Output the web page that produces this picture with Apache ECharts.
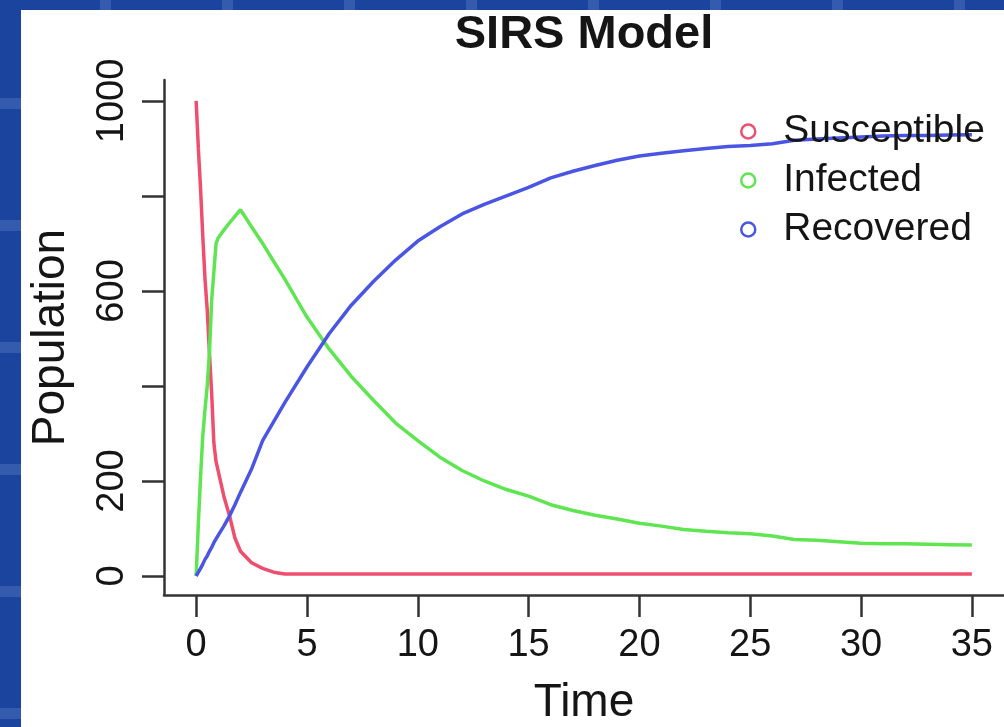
<!DOCTYPE html>
<html>
<head>
<meta charset="utf-8">
<title>SIRS Model</title>
<script src="https://cdn.jsdelivr.net/npm/echarts@6/dist/echarts.min.js"></script>
<style>
  html, body { margin: 0; padding: 0; width: 1004px; height: 727px; overflow: hidden; }
  body {
    background-color: #1b449f;
    background-image:
      repeating-linear-gradient(90deg, transparent 0 100px, rgba(120,150,215,0.28) 100px 111px, transparent 111px 122px),
      repeating-linear-gradient(180deg, transparent 0 98px, rgba(120,150,215,0.28) 98px 109px, transparent 109px 122px);
  }
  #panel { position: absolute; left: 21px; top: 10px; width: 983px; height: 717px; background: #ffffff; }
  #chart { position: absolute; left: 0; top: 0; width: 1004px; height: 727px; }
</style>
</head>
<body>
<div id="panel"></div>
<div id="chart"></div>
<script>
// Simulation output: time points and the three compartments
const timePoints = [0, 0.1, 0.2, 0.3, 0.4, 0.5, 0.6, 0.7, 0.8, 0.9, 1, 1.25, 1.5, 1.75, 2, 2.5, 3, 3.5, 4,
  5, 6, 7, 8, 9, 10, 11, 12, 13, 14, 15, 16, 17, 18, 19, 20, 21, 22, 23, 24, 25, 26, 27, 28, 29, 30, 31, 32, 33, 34, 35];
const susceptible = [1000, 900, 815, 715, 625, 560, 470, 385, 280, 240, 220, 168, 128, 80, 52, 28, 16, 8, 4,
  4, 4, 4, 4, 4, 4, 4, 4, 4, 4, 4, 4, 4, 4, 4, 4, 4, 4, 4, 4, 4, 4, 4, 4, 4, 4, 4, 4, 4, 4, 4];
const infected = [0, 110, 210, 295, 350, 400, 470, 580, 640, 700, 712, 728, 743, 757, 771, 735, 700, 662, 625,
  545, 478, 420, 370, 322, 285, 250, 222, 200, 182, 168, 150, 138, 128, 120, 111, 105, 98, 94, 91, 89, 84, 77, 75, 72, 69, 68, 68, 67, 66, 65];
const recovered = [0, 8, 16, 25, 35, 42, 52, 60, 70, 78, 86, 105, 126, 150, 176, 225, 285, 325, 365,
  440, 510, 570, 620, 665, 705, 735, 762, 782, 800, 818, 838, 852, 864, 875, 884, 890, 895, 900, 904, 906, 910, 917, 920, 922, 924, 926, 927, 927, 928, 929];

const seriesNames = ['Susceptible', 'Infected', 'Recovered'];
const seriesColors = ['#ef4f6e', '#5fe552', '#4a55e3'];
const xTicks = [0, 5, 10, 15, 20, 25, 30, 35];
const yTicks = [0, 200, 400, 600, 800, 1000];
const yTickLabels = [0, 200, 600, 1000];

const FONT = '"Liberation Sans", Arial, Helvetica, sans-serif';
const INK = '#151515';
const AXIS = '#333333';

const pairs = vals => timePoints.map((t, i) => [t, vals[i]]);
const seriesValues = [susceptible, infected, recovered];
const plain = v => String(v);

const chart = echarts.init(document.getElementById('chart'), null, { renderer: 'canvas' });

chart.setOption({
  animation: false,
  backgroundColor: 'transparent',
  textStyle: { fontFamily: FONT },
  title: {
    text: 'SIRS Model',
    left: 584,
    top: 12,
    padding: 0,
    textAlign: 'center',
    textStyle: { fontFamily: FONT, fontWeight: 'bold', fontSize: 47, color: INK, lineHeight: 47 }
  },
  legend: {
    orient: 'vertical',
    left: 740,
    top: 112,
    padding: 0,
    itemGap: 10,
    itemWidth: 60,
    itemHeight: 14,
    icon: 'circle',
    selectedMode: false,
    textStyle: { fontFamily: FONT, fontSize: 39, color: INK, lineHeight: 39 },
    data: seriesNames.map((n, i) => ({
      name: n,
      itemStyle: { color: '#ffffff', borderColor: seriesColors[i], borderWidth: 2.5 }
    }))
  },
  grid: {
    left: 164,
    right: 0,
    top: 80,
    bottom: 132,
    containLabel: false,
    outerBoundsMode: 'none'
  },
  xAxis: {
    type: 'value',
    min: -1.45,
    max: 36.45,
    name: 'Time',
    nameLocation: 'middle',
    nameGap: 85,
    nameTextStyle: { fontFamily: FONT, fontSize: 46, color: INK },
    axisLine: { show: true, onZero: false, lineStyle: { color: AXIS, width: 2.5 } },
    axisTick: { show: true, length: 22, customValues: xTicks, lineStyle: { color: AXIS, width: 2.5 } },
    axisLabel: { customValues: xTicks, formatter: plain, margin: 32, fontFamily: FONT, fontSize: 38, color: INK },
    splitLine: { show: false }
  },
  yAxis: {
    type: 'value',
    min: -40,
    max: 1044,
    name: 'Population',
    nameLocation: 'middle',
    nameGap: 90,
    nameRotate: 90,
    nameTextStyle: { fontFamily: FONT, fontSize: 46, color: INK },
    axisLine: { show: true, onZero: false, lineStyle: { color: AXIS, width: 2.5 } },
    axisTick: { show: true, length: 22, customValues: yTicks, lineStyle: { color: AXIS, width: 2.5 } },
    axisLabel: { customValues: yTickLabels, formatter: plain, rotate: 90, margin: 32, fontFamily: FONT, fontSize: 38, color: INK },
    splitLine: { show: false }
  },
  series: seriesNames.map((n, i) => ({
    name: n,
    type: 'line',
    data: pairs(seriesValues[i]),
    showSymbol: false,
    symbol: 'circle',
    color: seriesColors[i],
    lineStyle: { color: seriesColors[i], width: 3.5 },
    emphasis: { disabled: true }
  }))
});
</script>
</body>
</html>
